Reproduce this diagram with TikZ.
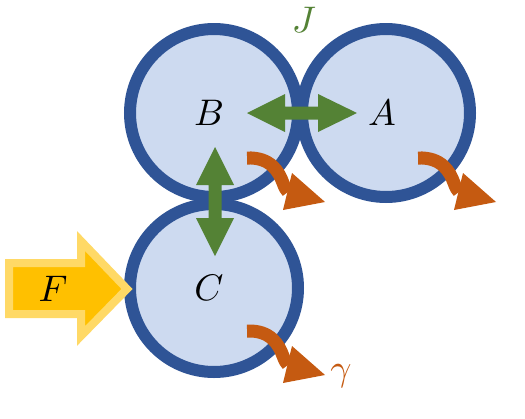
\documentclass[tikz,border=0pt]{standalone}
\usepackage{graphicx}
\usetikzlibrary{calc}
\definecolor{cfill}{HTML}{CDDAF0}
\definecolor{cline}{HTML}{2F5496}
\definecolor{cgreen}{HTML}{548235}
\definecolor{corange}{HTML}{C55A11}
\definecolor{fyel}{HTML}{FFC000}
\definecolor{fyelb}{HTML}{FFD966}
\newcommand\biglbl[1]{\scalebox{3.7}{$#1$}}
\tikzset{
  site/.style={circle, minimum size=168pt, inner sep=0pt},
  lbl/.style={inner sep=0pt},
  dbl/.style={fill=cgreen, draw=none},
}
\newcommand\lossarrow[2]{%
  \begin{scope}[shift={(#1,#2)}]
    \draw[corange, line width=13pt] (0,0) .. controls (24,-1) and (32,14) .. (36,25) .. controls (38,30) and (39,32) .. (41,34);
    \fill[corange] (36,52) -- (45,15) -- (78,44) -- cycle;
  \end{scope}}
\begin{document}
\begin{tikzpicture}[x=1pt,y=-1pt]
\useasboundingbox (0,0) rectangle (525,418);
% fills
\node[site, fill=cfill] (B) at (214,113) {};
\node[site, fill=cfill] (A) at (386,113) {};
\node[site, fill=cfill] (C) at (214,288) {};
% strokes
\foreach \n in {B,A,C}{
  \draw[cline, line width=12pt] (\n.center) circle (84pt);
}
% labels
\node[lbl] (lB) at (209,113) {\biglbl{B}};
\node[lbl] (lA) at (382,113) {\biglbl{A}};
\node[lbl] (lC) at (209,288) {\biglbl{C}};
% double arrows
\fill[dbl] (247,113) -- (285,94) -- (285,106.5) -- (318,106.5) -- (318,94) -- (357,113)
  -- (318,132) -- (318,119.5) -- (285,119.5) -- (285,132) -- cycle;
\fill[dbl] (215,147) -- (234,185) -- (221.5,185) -- (221.5,218) -- (234,218) -- (215,256)
  -- (196,218) -- (208.5,218) -- (208.5,185) -- (196,185) -- cycle;
\node[lbl, text=cgreen] (J) at (304,20) {\biglbl{J}};
% F arrow
\draw[fyelb, fill=fyel, line width=8pt, miter limit=3]
  (9,263) -- (81,263) -- (81,241) -- (127,289) -- (81,336) -- (81,314) -- (9,314) -- cycle;
\node[lbl] (F) at (53,289) {\biglbl{F}};
% loss arrows
\lossarrow{247}{158}
\lossarrow{418}{158}
\lossarrow{247}{331}
\node[lbl, text=corange] (g) at (341,376) {\biglbl{\gamma}};
\end{tikzpicture}
\end{document}
